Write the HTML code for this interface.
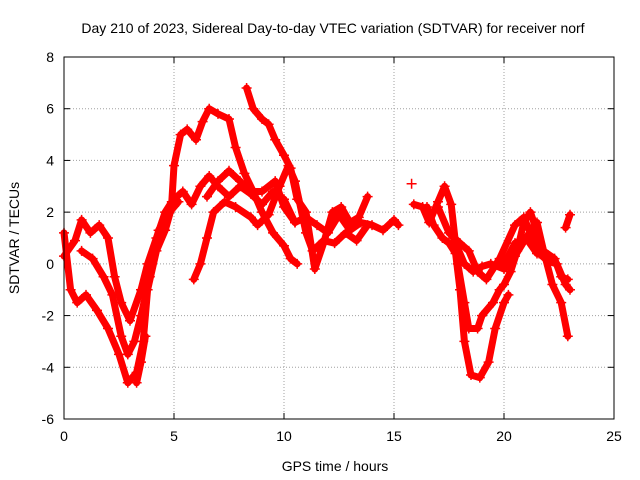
<!DOCTYPE html>
<html><head><meta charset="utf-8"><style>
body{margin:0;background:#fff;}
svg{display:block;font-family:"Liberation Sans",sans-serif;}
</style></head><body>
<svg id="chart" width="640" height="480" viewBox="0 0 640 480">
<text x="333" y="33" font-size="14" text-anchor="middle">Day 210 of 2023, Sidereal Day-to-day VTEC variation (SDTVAR) for receiver norf</text>
<text x="335" y="471" font-size="14" text-anchor="middle">GPS time / hours</text>
<text transform="translate(19,238) rotate(-90)" font-size="14" text-anchor="middle">SDTVAR / TECUs</text>
<g id="grid"></g><g id="ticks"></g><g id="marks"></g>
<rect x="64" y="57" width="550" height="362" fill="none" stroke="#000" stroke-width="1"/>
</svg>
<script>
const xTicks=[0,5,10,15,20,25];
const yTicks=[-6,-4,-2,0,2,4,6,8];
const track1=[[0,1.2],[0.3,-1],[0.6,-1.5],[1.0,-1.2],[1.5,-1.8],[2,-2.5],[2.5,-3.5],[2.9,-4.6],[3.3,-4.2],[3.6,-3],[3.8,-1],[4.2,0.5],[4.6,1.3],[5,2.5],[5.4,2.8],[5.8,2.3],[6.2,3],[6.6,3.4],[7,3],[7.5,2.6],[8,3],[8.5,2.7],[9,2.3],[9.5,2.8],[10,2.5],[10.5,1.6],[11,1.8],[11.5,1.5],[12,1.2],[12.5,1.9],[13,1.3],[13.5,1.6],[14,1.5],[14.5,1.3],[15,1.7],[15.2,1.5]];
const track2=[[0,0.3],[0.5,0.9],[0.8,1.7],[1.2,1.2],[1.6,1.5],[2,1],[2.3,-0.5],[2.6,-1.5],[3,-2.2],[3.5,-1],[3.8,0],[4.2,1],[4.6,2],[4.9,2.4],[5,3.8],[5.3,5],[5.6,5.2],[6,4.8],[6.3,5.5],[6.6,6],[7,5.8],[7.5,5.6],[7.8,4.5],[8.2,3.5],[8.6,2.8],[9,2],[9.5,1.2],[10,0.7],[10.3,0.2],[10.6,0]];
const track3=[[8.3,6.8],[8.6,6],[9,5.6],[9.3,5.4],[9.6,4.8],[10,4.2],[10.3,3.7],[10.6,2.5],[11,2],[11.4,-0.2],[11.8,0.8],[12.2,2],[12.6,2.2],[13,1.6],[13.4,1.8],[13.8,2.6]];
const track4=[[5.9,-0.6],[6.2,0],[6.5,1],[6.8,2],[7.3,2.4],[7.8,2.2],[8.5,1.8],[8.8,1.5],[9.3,1.9],[9.8,3],[10.2,3.8],[10.5,3.2],[11,1.2],[11.3,0.5],[11.8,0.9],[12.3,0.8],[12.8,1.2],[13.3,0.9],[13.8,1.5]];
const track5=[[6.5,2.6],[7,3.2],[7.5,3.6],[8,3.2],[8.4,2.8],[9,2.8],[9.6,3.2],[10,2.2],[10.5,1.6]];
const track6=[[0.8,0.5],[1.3,0.2],[1.8,-0.5],[2.2,-1.2],[2.6,-2.8],[2.9,-3.5],[3.2,-3.0],[3.5,-2],[3.9,-0.5],[4.3,1.3],[4.8,2],[5.2,2.4]];
const track7=[[3.3,-4.6],[3.5,-3.8],[3.7,-2.8]];
const track8=[[15.9,2.3],[16.3,2.2],[16.6,1.6],[17,2.4],[17.3,3],[17.6,2.3],[17.9,0],[18.2,-1.5],[18.4,-2.5],[18.8,-2.5],[19,-2],[19.5,-1.5],[19.8,-1],[20,-0.8],[20.3,-0.3],[20.6,0.5],[20.9,1.6],[21.2,2],[21.4,1.5],[21.8,0.5],[22.3,0.2],[22.6,-0.5],[22.9,-0.6]];
const track9=[[16.5,2.2],[16.8,1.5],[17.2,1],[17.5,0.8],[17.8,0.4],[18,-1],[18.2,-3],[18.5,-4.3],[18.9,-4.4],[19.3,-3.8],[19.6,-2.5],[20,-1.5],[20.2,-1.2]];
const track10=[[17,2.2],[17.5,1.2],[18,0.8],[18.4,0.5],[18.8,-0.3],[19.2,-0.6],[19.8,0.2],[20.5,1.5],[20.9,1.8],[21.2,1.2],[21.6,0.4],[22,0.1],[22.4,0],[22.8,-0.8],[23,-1]];
const track11=[[17.7,1],[18.2,0],[18.6,-0.3],[19,-0.1],[19.4,0],[20,-0.2],[20.5,0.3],[21,1],[21.5,1.6],[21.8,0.5],[22.2,-0.8],[22.6,-1.5],[22.9,-2.8]];
const track12=[[20,0],[20.5,0.8],[21,1],[21.5,0.4],[22,0.3]];
const track13=[[22.8,1.4],[23,1.9]];
const track14=[[15.8,3.1]];
const tracks=[track1,track2,track3,track4,track5,track6,track7,track8,track9,track10,track11,track12,track13,track14];

const NS="http://www.w3.org/2000/svg";
const X0=64,X1=614,Y0=419,Y1=57;
function xs(t){return X0+(t-0)/(25-0)*(X1-X0);}
function ys(v){return Y0-(v-(-6))/(8-(-6))*(Y0-Y1);}
function mk(tag,attrs,parent){const e=document.createElementNS(NS,tag);for(const k in attrs)e.setAttribute(k,attrs[k]);parent.appendChild(e);return e;}
const grid=document.getElementById('grid'),ticks=document.getElementById('ticks'),marks=document.getElementById('marks');
xTicks.forEach(t=>{
  const x=xs(t);
  if(t>0&&t<25){const g=mk('line',{x1:x,x2:x,y1:Y1,y2:Y0,stroke:'#a0a0a0','stroke-dasharray':'1,2'},grid);
  
  }
  mk('line',{x1:x,x2:x,y1:Y0,y2:Y0-6,stroke:'#000'},ticks);
  mk('line',{x1:x,x2:x,y1:Y1,y2:Y1+6,stroke:'#000'},ticks);
  const l=mk('text',{x:x,y:Y0+22,'font-size':14,'text-anchor':'middle'},ticks);
  l.textContent=t;
  
  
});
yTicks.forEach(v=>{
  const y=ys(v);
  if(v>-6&&v<8){const g=mk('line',{x1:X0,x2:X1,y1:y,y2:y,stroke:'#a0a0a0','stroke-dasharray':'1,2'},grid);
  
  }
  mk('line',{x1:X0,x2:X0+6,y1:y,y2:y,stroke:'#000'},ticks);
  mk('line',{x1:X1,x2:X1-6,y1:y,y2:y,stroke:'#000'},ticks);
  const l=mk('text',{x:X0-10,y:y+5,'font-size':14,'text-anchor':'end'},ticks);
  l.textContent=v;
  
  
});
tracks.forEach((tr,i)=>{
  const g=mk('g',{},marks);
  
  
  if(tr.length>1){
    const pl=mk('polyline',{points:tr.map(p=>xs(p[0])+','+ys(p[1])).join(' '),fill:'none',stroke:'#ff0000','stroke-width':7,'stroke-linejoin':'round','stroke-linecap':'round'},g);
    
    
  }
  tr.forEach(p=>{
    const x=xs(p[0]),y=ys(p[1]);
    const m=mk('path',{d:`M${x-5},${y}H${x+5}M${x},${y-5}V${y+5}`,stroke:'#ff0000','stroke-width':1.5},g);
    
    
  });
});
</script>
</body></html>
